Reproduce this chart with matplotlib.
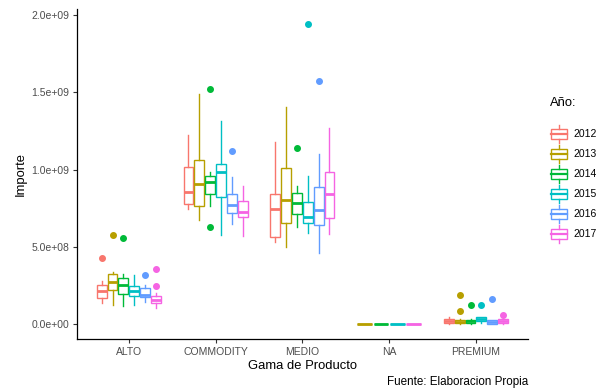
import matplotlib
matplotlib.use("Agg")
import matplotlib.pyplot as plt
from matplotlib.patches import Rectangle, Patch
from matplotlib.lines import Line2D
from matplotlib.legend_handler import HandlerBase

plt.rcParams['font.family'] = ['Liberation Sans', 'DejaVu Sans']

# ---------------- data (values in millions) ----------------
SCALE = 1e6
categories = ["ALTO", "COMMODITY", "MEDIO", "NA", "PREMIUM"]
years = ["2012", "2013", "2014", "2015", "2016", "2017"]
colors = ["#F8766D", "#B79F00", "#00BA38", "#00BFC4", "#619CFF", "#F564E3"]

# each row: [whisker low, q1, median, q3, whisker high]
alto_years = ["2012", "2013", "2014", "2015", "2016", "2017"]
alto_box = [[140, 168, 213, 256, 279],
            [127, 224, 271, 325, 340],
            [116, 196, 252, 297, 327],
            [123, 181, 217, 247, 321],
            [144, 176, 189, 234, 256],
            [105, 135, 159, 183, 200]]
alto_out = [[426], [579], [561], [], [318], [357, 245]]

commodity_years = ["2012", "2013", "2014", "2015", "2016", "2017"]
commodity_box = [[746, 779, 854, 1019, 1224],
                 [677, 763, 905, 1065, 1490],
                 [763, 841, 921, 957, 985],
                 [579, 824, 985, 1037, 1314],
                 [647, 721, 770, 843, 955],
                 [572, 695, 723, 798, 895]]
commodity_out = [[], [], [1523, 630], [], [1118], []]

medio_years = ["2012", "2013", "2014", "2015", "2016", "2017"]
medio_box = [[535, 563, 744, 843, 1176],
             [499, 658, 806, 1011, 1408],
             [630, 712, 785, 850, 895],
             [592, 652, 695, 789, 961],
             [458, 645, 742, 890, 1103],
             [581, 688, 843, 985, 1269]]
medio_out = [[], [], [1137], [1942], [1572], []]

na_years = ["2013", "2014", "2015", "2017"]
na_box = [[0, 0, 0, 0, 0],
          [0, 0, 0, 0, 0],
          [0, 0, 0, 0, 0],
          [0, 0, 0, 0, 0]]
na_out = [[], [], [], []]

premium_years = ["2012", "2013", "2014", "2015", "2016", "2017"]
premium_box = [[2, 8, 23, 32, 50],
               [4, 11, 18, 28, 35],
               [4, 11, 20, 30, 36],
               [10, 19, 32, 45, 50],
               [2, 5, 12, 26, 30],
               [3, 10, 22, 32, 45]]
premium_out = [[], [189, 88], [125], [125], [161], [58]]

yticks = [0, 5e8, 1e9, 1.5e9, 2e9]
ytick_labels = ["0.0e+00", "5.0e+08", "1.0e+09", "1.5e+09", "2.0e+09"]

groups = [(alto_years, alto_box, alto_out),
          (commodity_years, commodity_box, commodity_out),
          (medio_years, medio_box, medio_out),
          (na_years, na_box, na_out),
          (premium_years, premium_box, premium_out)]

# ---------------- figure ----------------
W, H = 596, 389
fig = plt.figure(figsize=(W / 100, H / 100), dpi=100)
ax = fig.add_axes([76.7 / W, (H - 339.3) / H, (528 - 76.7) / W, (339.3 - 9) / H])

dodge = 0.75
all_vals = []
for gi, (yrs, boxes, outs) in enumerate(groups):
    x = gi + 1
    n = len(yrs)
    slot = dodge / n
    for i, (yr, b, o) in enumerate(zip(yrs, boxes, outs)):
        c = colors[years.index(yr)]
        pos = x - dodge / 2 + slot * (i + 0.5)
        st = dict(whislo=b[0] * SCALE, q1=b[1] * SCALE, med=b[2] * SCALE,
                  q3=b[3] * SCALE, whishi=b[4] * SCALE,
                  fliers=[v * SCALE for v in o])
        all_vals += [b[0] * SCALE, b[4] * SCALE] + [v * SCALE for v in o]
        ax.bxp([st], positions=[pos], widths=[slot * 0.9], showcaps=False,
               patch_artist=True, manage_ticks=False,
               boxprops=dict(facecolor="white", edgecolor=c, linewidth=1.0),
               whiskerprops=dict(color=c, linewidth=1.0),
               medianprops=dict(color=c, linewidth=2.0, solid_capstyle="butt"),
               flierprops=dict(marker="o", markerfacecolor=c, markeredgecolor=c,
                               markersize=4.0, linestyle="none"))

lo, hi = min(all_vals), max(all_vals)
pad = (hi - lo) * 0.05
ax.set_ylim(lo - pad, hi + pad)
ax.set_xlim(0.4, len(categories) + 0.6)
ax.set_xticks(range(1, len(categories) + 1))
ax.set_xticklabels(categories)
ax.set_yticks(yticks)
ax.set_yticklabels(ytick_labels)

for s in ["top", "right"]:
    ax.spines[s].set_visible(False)
for s in ["left", "bottom"]:
    ax.spines[s].set_linewidth(0.9)
    ax.spines[s].set_color("black")
ax.tick_params(axis="both", length=3, width=0.8, color="#333333",
               labelsize=7.5, labelcolor="#4d4d4d", pad=2.5)

ax.set_xlabel("Gama de Producto", fontsize=9.4, color="black", va="center")
ax.xaxis.set_label_coords(0.5, (339.3 - 366) / 330.3)
ax.set_ylabel("Importe", fontsize=9.4, color="black", va="center")
ax.yaxis.set_label_coords((21 - 76.7) / 451.3, 0.5)

fig.text(528 / W, 1 - 381.7 / H, "Fuente: Elaboracion Propia", ha="right",
         va="center", fontsize=8.4, color="black")


# ---------------- legend ----------------
class BoxHandler(HandlerBase):
    def create_artists(self, legend, orig_handle, xdescent, ydescent,
                       width, height, fontsize, trans):
        c = orig_handle.get_edgecolor()
        x0, y0 = -xdescent, -ydescent
        rect = Rectangle((x0 + 0.5, y0 + 0.24 * height), width - 1, 0.52 * height,
                         facecolor="white", edgecolor=c, linewidth=1.0,
                         transform=trans)
        med = Line2D([x0 + 0.5, x0 + width - 0.5], [y0 + 0.5 * height] * 2,
                     color=c, linewidth=1.6, transform=trans)
        wt = Line2D([x0 + width / 2] * 2, [y0 + 0.76 * height, y0 + height],
                    color=c, linewidth=1.0, transform=trans)
        wb = Line2D([x0 + width / 2] * 2, [y0, y0 + 0.24 * height],
                    color=c, linewidth=1.0, transform=trans)
        return [rect, med, wt, wb]


handles = [Patch(edgecolor=c, facecolor="white") for c in colors]
fs = 7.5
fspx = fs * 100 / 72
key_h = 18.0
hh = (key_h / fspx - 0.245) / 0.65
leg = fig.legend(handles, years, loc="upper left",
                 bbox_to_anchor=(550 / W, 1 - 97 / H),
                 frameon=False, fontsize=fs, title="Año:",
                 title_fontsize=9.4, alignment="left",
                 handler_map={Patch: BoxHandler()},
                 handlelength=18 / fspx, handleheight=hh,
                 labelspacing=(20 - key_h) / fspx, handletextpad=5 / fspx,
                 borderpad=0, borderaxespad=0)
# extra gap between legend title and keys (as in the reference)
leg._legend_box.sep = 16 * 72 / 100
for t in leg.get_texts():
    t.set_color("black")

fig.savefig("out.png", dpi=100)
